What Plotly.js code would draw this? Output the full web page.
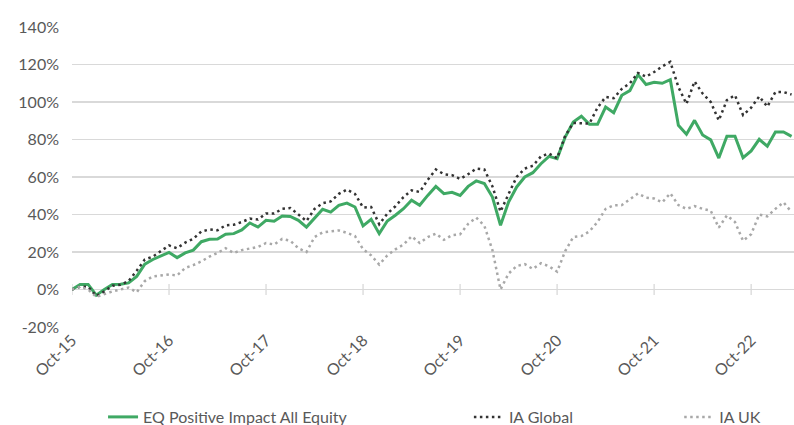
<!DOCTYPE html>
<html>
<head>
<meta charset="utf-8">
<script src="https://cdn.plot.ly/plotly-3.0.1.min.js"></script>
<style>html,body{margin:0;padding:0;background:#fff;}#chart{width:794px;height:425px;}</style>
</head>
<body>
<div id="chart"></div>
<script>
const months = [
 "Oct-15","Nov-15","Dec-15",
 "Jan-16","Feb-16","Mar-16","Apr-16","May-16","Jun-16","Jul-16","Aug-16","Sep-16","Oct-16","Nov-16","Dec-16",
 "Jan-17","Feb-17","Mar-17","Apr-17","May-17","Jun-17","Jul-17","Aug-17","Sep-17","Oct-17","Nov-17","Dec-17",
 "Jan-18","Feb-18","Mar-18","Apr-18","May-18","Jun-18","Jul-18","Aug-18","Sep-18","Oct-18","Nov-18","Dec-18",
 "Jan-19","Feb-19","Mar-19","Apr-19","May-19","Jun-19","Jul-19","Aug-19","Sep-19","Oct-19","Nov-19","Dec-19",
 "Jan-20","Feb-20","Mar-20","Apr-20","May-20","Jun-20","Jul-20","Aug-20","Sep-20","Oct-20","Nov-20","Dec-20",
 "Jan-21","Feb-21","Mar-21","Apr-21","May-21","Jun-21","Jul-21","Aug-21","Sep-21","Oct-21","Nov-21","Dec-21",
 "Jan-22","Feb-22","Mar-22","Apr-22","May-22","Jun-22","Jul-22","Aug-22","Sep-22","Oct-22","Nov-22","Dec-22",
 "Jan-23","Feb-23","Mar-23"
];

const eqPositiveImpact = [
 0, 2.7, 2.7, -3, 0, 2.7, 2.8, 3.5, 7, 13.5, 16, 18, 19.8, 17, 19.5,
 21, 25.5, 26.8, 26.9, 29.5, 29.8, 31.8, 35.5, 33.3, 36.9, 36.4, 39.2,
 39, 36.9, 33.3, 38.3, 42.8, 41.3, 44.9, 46.1, 44, 33.9, 37.4, 29.8,
 36.5, 39.6, 43.1, 47.6, 44.9, 50.2, 55, 51.1, 51.8, 50.2, 55, 57.9,
 56.5, 49.3, 34.2, 46.7, 54.7, 60, 62.3, 67.1, 71, 69.8, 81.3, 89.3,
 92.4, 88.1, 88.1, 97.3, 94.3, 103.6, 106.1, 114.6, 109.3, 110.5, 110, 111.9,
 87.6, 82.8, 90.2, 82.4, 79.8, 70.1, 81.7, 81.7, 70.3, 73.9, 80.1, 76.4,
 84, 84, 81.7
];

const iaGlobal = [
 0, 1.5, 1.5, -3.5, -1, 2, 2.5, 4.5, 10, 16, 17.5, 20.5, 23.5, 22, 25,
 27, 31, 32, 31.6, 34.2, 34.5, 36, 37.8, 37.3, 40.5, 40.5, 43,
 43.5, 40, 36.5, 43, 46, 47, 51, 53.3, 51, 43.7, 44, 34.8,
 40.5, 44.4, 49.3, 52.9, 52, 58.5, 64, 61.5, 61, 59, 61.5, 64.5,
 64, 55, 41.5, 51, 60, 64.5, 66, 71, 72.5, 70, 82, 88.8,
 88.8, 88.5, 97, 102.7, 102, 107, 110, 115.5, 113.5, 116, 119, 121.4,
 108, 99, 111, 104.5, 100, 90.2, 101, 103.6, 93, 97, 103, 97.5,
 105.3, 105.3, 104
];

const iaUK = [
 0, 1.5, 0, -4, -2.5, -1, 0, 1, -1.5, 4.5, 7, 7.5, 8, 7.5, 11.5,
 13, 15, 17.5, 19.5, 22, 19.5, 21, 21.8, 22.7, 24.8, 24, 27,
 26, 22, 20, 28, 30.5, 31, 31.5, 30.2, 28.5, 21.5, 18.2, 13.3,
 18.2, 21.4, 24, 28.4, 24.8, 28, 29.8, 26.5, 29, 29.4, 35, 38.3,
 34, 21, 0, 8.5, 12.5, 13.5, 11, 14, 12.4, 9.5, 20.5, 28,
 28.5, 31, 36, 43, 44.9, 45, 48, 51.2, 49, 48.5, 46.5, 51.3,
 45, 43, 44.5, 43, 42, 33, 39.5, 36, 26, 29.5, 40, 39,
 43, 46.5, 41.3
];

const seriesNames = ["EQ Positive Impact All Equity", "IA Global", "IA UK"];
const xTickLabels = ["Oct-15","Oct-16","Oct-17","Oct-18","Oct-19","Oct-20","Oct-21","Oct-22"];
const yTickValues = [-20, 0, 20, 40, 60, 80, 100, 120, 140];
const yTickLabels = ["-20%","0%","20%","40%","60%","80%","100%","120%","140%"];

const axisMarks = {
  x: xTickLabels, y: xTickLabels.map(() => 0),
  type: 'scatter', mode: 'markers', showlegend: false, hoverinfo: 'skip',
  marker: {symbol: 'line-ns', size: 8, line: {width: 1.3, color: '#d9d9d9'}, color: '#d9d9d9'}
};

const traces = [
  axisMarks,
  {x: months, y: eqPositiveImpact, name: seriesNames[0], type: 'scatter', mode: 'lines',
   line: {color: '#3fa964', width: 3}, legend: 'legend', hoverinfo: 'skip'},
  {x: months, y: iaGlobal, name: seriesNames[1], type: 'scatter', mode: 'lines',
   line: {color: '#333333', width: 2.5, dash: '2.5px,3.5px'}, legend: 'legend2', hoverinfo: 'skip'},
  {x: months, y: iaUK, name: seriesNames[2], type: 'scatter', mode: 'lines',
   line: {color: '#a8a8a8', width: 2.5, dash: '2.5px,3.5px'}, legend: 'legend3', hoverinfo: 'skip'}
];

const legendBase = {y: -0.30, yanchor: 'middle', xanchor: 'left', orientation: 'h',
  bgcolor: 'rgba(0,0,0,0)', font: {family: 'Lato, sans-serif', size: 16, color: '#595959'}};

const layout = {
  width: 794, height: 425,
  margin: {l: 72, r: 0, t: 27, b: 98, autoexpand: false},
  paper_bgcolor: '#ffffff', plot_bgcolor: '#ffffff',
  font: {family: 'Lato, sans-serif', color: '#595959', size: 16},
  xaxis: {type: 'category', categoryorder: 'array', categoryarray: months,
    range: [0, 89.3], tickvals: xTickLabels, ticktext: xTickLabels, automargin: false,
    tickangle: -45, showgrid: false, zeroline: false, showline: false, ticks: '',
    tickfont: {family: 'Lato, sans-serif', size: 16, color: '#595959'}},
  yaxis: {range: [-20, 140], tickvals: yTickValues, ticktext: yTickLabels, automargin: false,
    showgrid: true, gridcolor: '#d9d9d9', gridwidth: 1.3, zeroline: false, showline: false,
    ticks: '', ticklabelstandoff: 12,
    tickfont: {family: 'Lato, sans-serif', size: 16, color: '#595959'}},
  showlegend: true,
  legend: Object.assign({}, legendBase, {x: 0.043}),
  legend2: Object.assign({}, legendBase, {x: 0.5497}),
  legend3: Object.assign({}, legendBase, {x: 0.841})
};

Plotly.newPlot('chart', traces, layout, {displayModeBar: false, staticPlot: true});
</script>
</body>
</html>
